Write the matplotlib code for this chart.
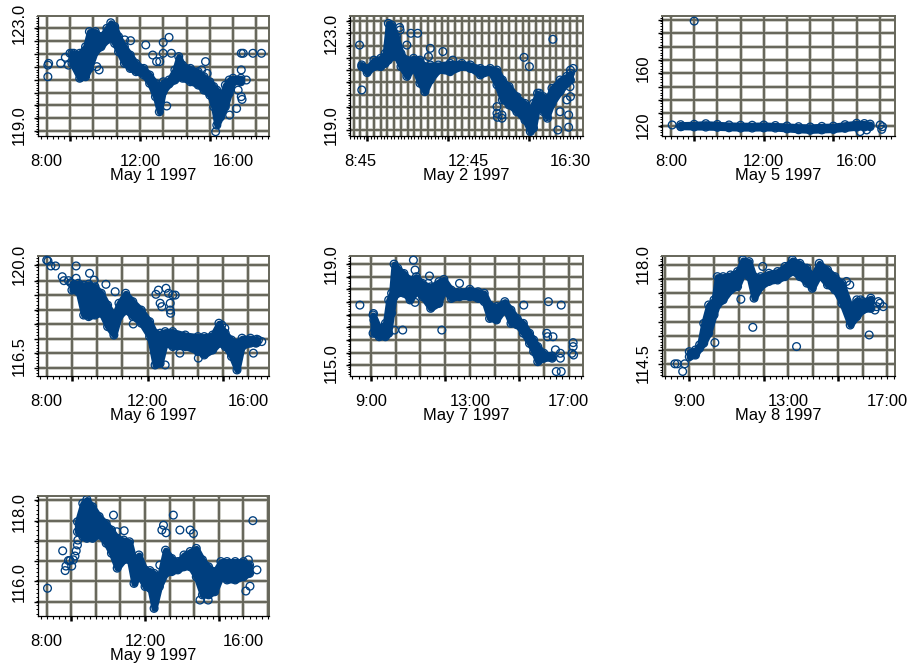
import numpy as np
import matplotlib
matplotlib.use("Agg")
import matplotlib.pyplot as plt
from matplotlib.ticker import MultipleLocator, NullLocator
from matplotlib.transforms import blended_transform_factory

# ---------------------------------------------------------------------------
# Intraday prices, one panel per trading day of early May 1997.
# The dense trading band is kept as (time, low, high); isolated trades that
# sit away from the band are kept as (time, price).
# ---------------------------------------------------------------------------

may1_band_time = ["09:05", "09:25", "09:40", "09:50", "10:05", "10:20", "10:35", "10:45",
                  "10:55", "11:05", "11:20", "11:35", "11:50", "12:10", "12:25", "12:40",
                  "12:50", "13:00", "13:15", "13:30", "13:40", "13:50", "14:10", "14:30",
                  "14:45", "15:00", "15:10", "15:18", "15:28", "15:40", "15:50", "16:00", "16:20"]
may1_band_high = [121.83, 121.83, 122.09, 122.69, 122.69, 122.49, 122.82, 123.04,
                  122.89, 122.49, 122.09, 121.76, 121.43, 121.23, 120.97, 120.64,
                  120.51, 120.70, 120.77, 121.17, 121.70, 121.36, 121.23, 121.10,
                  120.90, 120.70, 120.51, 120.37, 120.04, 120.57, 120.77, 120.84, 120.84]
may1_band_low = [121.43, 120.84, 120.90, 121.23, 121.89, 122.09, 122.36, 122.49,
                 122.22, 121.89, 121.43, 121.23, 121.10, 120.97, 120.64, 120.11,
                 119.51, 120.31, 120.61, 120.77, 120.90, 120.84, 120.70, 120.57,
                 120.37, 120.17, 119.71, 118.98, 119.31, 119.71, 120.24, 120.70, 120.70]
may1_tick_time = ["08:03", "08:03", "08:05", "08:36", "08:48", "08:56", "09:00", "09:10",
                  "10:09", "10:15", "11:21", "11:36", "12:15", "12:33", "12:43", "12:51",
                  "13:00", "13:15", "13:00", "13:21", "13:09", "14:39", "14:49", "14:53",
                  "15:15", "15:51", "16:09", "16:13", "16:21", "16:26", "16:21", "16:34",
                  "16:21", "16:23", "16:51", "17:13"]
may1_tick_price = [120.90, 121.36, 121.43, 121.43, 121.67, 121.36, 121.83, 121.83,
                   121.30, 121.17, 122.36, 122.33, 122.16, 121.76, 121.50, 121.50,
                   122.26, 122.46, 121.83, 121.83, 119.74, 121.17, 121.50, 121.03,
                   118.72, 119.38, 119.64, 120.37, 121.83, 121.83, 121.17, 120.77,
                   120.11, 120.00, 121.83, 121.83]

may2_band_time = ["08:48", "09:00", "09:15", "09:30", "09:40", "09:47", "09:55", "10:05",
                  "10:15", "10:28", "10:43", "10:57", "11:08", "11:20", "11:38", "12:04",
                  "12:30", "12:49", "13:11", "13:33", "13:48", "14:00", "14:15", "14:32",
                  "14:50", "15:02", "15:09", "15:18", "15:31", "15:39", "15:50", "16:08",
                  "16:23", "16:31"]
may2_band_high = [121.62, 121.47, 121.83, 121.91, 122.12, 123.42, 123.34, 122.84,
                  122.12, 121.83, 121.91, 121.83, 121.55, 121.62, 121.62, 121.69,
                  121.69, 121.62, 121.47, 121.47, 121.40, 120.97, 120.68, 120.25,
                  119.96, 119.68, 119.96, 120.40, 120.25, 120.11, 120.61, 120.97,
                  121.13, 121.26]
may2_band_low = [121.55, 121.29, 121.55, 121.55, 121.69, 121.83, 121.98, 121.98,
                 121.55, 121.13, 121.55, 120.83, 120.47, 120.97, 121.40, 121.33,
                 121.55, 121.47, 121.19, 121.33, 120.76, 120.11, 119.89, 119.60,
                 119.24, 118.74, 118.89, 119.82, 119.60, 119.39, 119.96, 120.47,
                 120.83, 120.97]
may2_tick_time = ["08:43", "08:48", "10:12", "10:13", "10:28", "10:37", "10:52", "11:16",
                  "11:20", "11:48", "12:10", "13:48", "13:48", "13:49", "13:59", "13:59",
                  "14:19", "14:48", "15:00", "15:09", "15:22", "15:40", "15:52", "16:03",
                  "16:08", "16:23", "16:27", "16:27", "16:31", "16:31", "16:37", "16:30"]
may2_tick_price = [122.48, 120.54, 123.24, 123.13, 122.48, 122.99, 122.99, 121.98,
                   122.34, 122.20, 121.83, 119.82, 119.53, 119.36, 119.46, 119.32,
                   120.40, 121.95, 121.55, 119.17, 120.40, 119.32, 122.73, 118.81,
                   119.60, 120.11, 119.46, 118.93, 120.25, 121.40, 121.47, 120.68]

may5_band_time = ["08:25", "09:00", "09:30", "10:00", "10:30", "11:00", "11:30", "12:00",
                  "12:30", "13:00", "13:30", "14:00", "14:30", "15:00", "15:30", "16:00",
                  "16:20", "16:35"]
may5_band_high = [120.2, 120.5, 120.9, 120.4, 120.0, 119.8, 119.8, 120.0,
                  119.6, 119.3, 118.8, 118.6, 119.0, 119.2, 120.2, 121.2, 121.0, 120.6]
may5_band_low = [118.8, 118.6, 118.5, 118.3, 118.0, 117.8, 117.8, 117.9,
                 117.8, 117.2, 116.6, 116.2, 116.5, 116.8, 117.6, 118.4, 118.6, 118.8]
may5_tick_time = ["08:03", "08:26", "09:00", "16:09", "16:26", "17:01", "17:07", "17:05"]
may5_tick_price = [120.0, 118.8, 193.4, 115.3, 116.5, 120.0, 118.8, 116.9]

may6_band_time = ["09:00", "09:15", "09:28", "09:40", "09:55", "10:10", "10:25", "10:40",
                  "10:52", "11:08", "11:25", "11:45", "12:05", "12:18", "12:30", "12:42",
                  "13:00", "13:30", "14:00", "14:15", "14:35", "14:50", "15:05", "15:20",
                  "15:33", "15:45", "16:05", "16:20"]
may6_band_high = [119.28, 119.28, 119.21, 119.25, 119.15, 118.90, 118.45, 118.01,
                  118.52, 118.90, 118.58, 118.26, 117.82, 117.38, 117.38, 117.44,
                  117.44, 117.31, 117.25, 117.25, 117.31, 117.76, 117.38, 117.12,
                  117.00, 117.19, 117.19, 117.15]
may6_band_low = [119.02, 118.96, 118.07, 118.01, 118.07, 118.14, 117.63, 117.31,
                 118.01, 118.26, 118.01, 117.76, 117.25, 116.17, 116.23, 117.00,
                 116.87, 116.87, 116.68, 116.55, 116.74, 117.00, 116.87, 116.49,
                 115.98, 116.87, 117.00, 117.02]
may6_tick_time = ["08:00", "08:03", "08:10", "08:21", "08:37", "08:41", "08:52", "08:57",
                  "09:10", "09:10", "09:42", "09:53", "10:21", "10:43", "10:23", "11:26",
                  "12:20", "12:26", "12:30", "12:34", "12:44", "12:50", "13:00", "13:06",
                  "12:54", "12:54", "12:55", "12:42", "13:17", "14:01", "14:57", "15:04",
                  "16:12", "16:18", "16:24", "16:32"]
may6_tick_price = [120.16, 120.13, 119.94, 119.94, 119.53, 119.38, 119.38, 119.30,
                   119.94, 119.47, 119.66, 119.40, 119.24, 118.96, 118.01, 117.73,
                   118.86, 119.02, 118.52, 118.39, 119.09, 118.90, 118.83, 118.83,
                   118.52, 118.26, 118.14, 116.17, 116.62, 116.43, 117.69, 117.57,
                   116.62, 117.00, 117.12, 117.06]

may7_band_time = ["09:05", "09:20", "09:35", "09:43", "09:50", "09:56", "10:05", "10:20",
                  "10:35", "10:50", "11:05", "11:25", "11:45", "11:57", "12:15", "12:35",
                  "13:00", "13:20", "13:35", "13:48", "14:05", "14:25", "14:40", "14:55",
                  "15:10", "15:25", "15:35", "15:45", "16:00", "16:20"]
may7_band_high = [116.94, 116.40, 116.60, 117.55, 117.82, 119.00, 118.83, 118.62,
                  118.35, 118.49, 118.22, 118.08, 118.29, 118.38, 117.95, 117.88,
                  117.98, 117.88, 117.82, 117.34, 117.28, 117.48, 117.14, 116.80,
                  116.60, 116.20, 115.93, 115.66, 115.39, 115.28]
may7_band_low = [116.20, 116.06, 116.06, 116.20, 117.01, 117.68, 117.82, 117.82,
                 117.55, 117.88, 117.68, 117.21, 117.41, 117.95, 117.61, 117.68,
                 117.68, 117.61, 117.48, 116.80, 116.74, 117.21, 116.60, 116.54,
                 116.20, 115.79, 115.46, 115.05, 115.19, 115.19]
may7_tick_time = ["08:33", "09:06", "09:07", "09:12", "09:57", "10:17", "10:43", "10:47",
                  "11:22", "11:19", "10:47", "11:52", "12:35", "15:11", "16:11", "16:42",
                  "16:07", "16:09", "16:22", "16:28", "16:40", "16:40", "16:30", "16:42",
                  "17:11", "17:11", "17:12", "17:08"]
may7_tick_price = [117.34, 117.00, 116.74, 116.33, 116.33, 116.33, 119.16, 118.76,
                   118.52, 118.22, 117.45, 116.33, 118.22, 117.34, 117.48, 117.34,
                   116.20, 116.06, 116.06, 115.53, 115.39, 115.19, 114.65, 114.65,
                   115.82, 115.66, 115.32, 115.39]

may8_band_time = ["09:00", "09:15", "09:25", "09:35", "09:47", "10:00", "10:08", "10:22",
                  "10:40", "10:57", "11:10", "11:25", "11:37", "11:53", "12:13", "12:34",
                  "12:52", "13:10", "13:28", "13:45", "13:58", "14:15", "14:35", "14:53",
                  "15:10", "15:30", "15:46", "16:00", "16:20"]
may8_band_high = [114.90, 114.96, 115.14, 115.90, 116.55, 116.73, 117.55, 117.55,
                  117.61, 117.73, 118.14, 118.08, 117.55, 117.55, 117.67, 117.73,
                  117.91, 118.14, 118.02, 117.85, 117.55, 118.02, 117.79, 117.55,
                  117.32, 116.49, 116.73, 116.67, 116.79]
may8_band_low = [114.72, 114.78, 115.02, 115.20, 115.55, 116.20, 116.55, 116.73,
                 117.08, 117.20, 117.67, 117.55, 116.79, 117.20, 117.38, 117.43,
                 117.55, 117.73, 117.55, 117.32, 117.14, 117.61, 117.26, 117.08,
                 116.61, 115.84, 116.14, 116.37, 116.43]
may8_tick_time = ["08:25", "08:31", "08:44", "08:49", "10:02", "11:05", "11:34", "11:58",
                  "13:20", "15:21", "15:29", "15:55", "16:16", "16:30", "16:34", "16:38",
                  "16:42", "16:50"]
may8_tick_price = [114.47, 114.47, 114.20, 114.47, 115.22, 116.75, 115.76, 117.91,
                   115.08, 117.38, 117.26, 116.73, 115.49, 116.37, 116.49, 116.67,
                   116.61, 116.49]

may9_band_time = ["09:15", "09:28", "09:38", "09:52", "10:08", "10:25", "10:38", "10:52",
                  "11:08", "11:22", "11:33", "11:45", "12:00", "12:12", "12:22", "12:35",
                  "12:50", "13:05", "13:20", "13:35", "13:50", "14:05", "14:20", "14:35",
                  "14:50", "15:05", "15:20", "15:40", "16:00", "16:15"]
may9_band_high = [117.73, 118.26, 118.37, 118.16, 117.88, 117.68, 117.49, 117.25,
                  117.20, 117.15, 116.63, 116.77, 116.34, 116.32, 116.24, 116.14,
                  116.91, 116.67, 116.58, 116.77, 116.87, 116.96, 116.63, 116.43,
                  116.29, 116.58, 116.58, 116.58, 116.58, 116.48]
may9_band_low = [117.44, 117.30, 117.25, 117.25, 117.35, 117.11, 116.82, 116.39,
                 116.63, 116.63, 115.95, 116.19, 115.86, 115.81, 115.23, 115.86,
                 116.24, 116.29, 116.34, 116.43, 116.43, 116.14, 115.62, 115.62,
                 115.71, 116.14, 116.05, 116.05, 116.14, 116.24]
may9_tick_time = ["08:02", "08:39", "08:45", "08:47", "08:53", "08:57", "09:01", "09:05",
                  "09:09", "09:12", "09:15", "09:16", "10:43", "10:51", "11:09", "12:36",
                  "12:41", "12:45", "12:51", "13:09", "13:25", "13:50", "13:58", "14:14",
                  "14:34", "16:06", "16:12", "16:16", "16:23", "16:33"]
may9_tick_price = [115.81, 116.89, 116.32, 116.45, 116.61, 116.61, 116.45, 116.63,
                   116.74, 116.89, 117.06, 117.20, 117.92, 117.44, 117.47, 116.48,
                   117.49, 117.63, 117.41, 117.92, 117.49, 117.49, 117.39, 115.47,
                   115.47, 115.73, 116.63, 115.87, 117.76, 116.34]

# axis text
day_titles = ["May 1 1997", "May 2 1997", "May 5 1997", "May 6 1997",
              "May 7 1997", "May 8 1997", "May 9 1997"]
x_tick_text = [["8:00", "12:00", "16:00"], ["8:45", "12:45", "16:30"],
               ["8:00", "12:00", "16:00"], ["8:00", "12:00", "16:00"],
               ["9:00", "13:00", "17:00"], ["9:00", "13:00", "17:00"],
               ["8:00", "12:00", "16:00"]]
x_tick_times = [["08:00", "12:00", "16:00"], ["08:45", "12:45", "16:30"],
                ["08:00", "12:00", "16:00"], ["08:00", "12:00", "16:00"],
                ["09:00", "13:00", "17:00"], ["09:00", "13:00", "17:00"],
                ["08:00", "12:00", "16:00"]]
y_tick_values = [[119.0, 123.0], [119.0, 123.0], [120, 160], [116.5, 120.0],
                 [115.0, 119.0], [114.5, 118.0], [116.0, 118.0]]
y_tick_text = [["119.0", "123.0"], ["119.0", "123.0"], ["120", "160"], ["116.5", "120.0"],
               ["115.0", "119.0"], ["114.5", "118.0"], ["116.0", "118.0"]]

# ---------------------------------------------------------------------------
# layout / styling
# ---------------------------------------------------------------------------
W, H = 911, 668
BLUE = "#003f7f"
GRID_DARK = "#66665a"
GRID_LIGHT = "#c2c2ba"
FONT = ["Liberation Sans", "DejaVu Sans"]
FONT_NARROW = ["Liberation Sans Narrow", "Liberation Sans", "DejaVu Sans"]
FS = 11.9
MARK_S = 31
MARK_LW = 0.95

plt.rcParams["font.family"] = FONT

col_left = [37.7, 350.0, 662.3]
col_width = [231.3, 232.7, 232.7]
row_top = [15.7, 255.7, 495.7]
panel_h = 120.3

# (row, col), x-limits (hours), y-limits, horizontal grid values,
# vertical grid step (hours), minor x tick step (hours)
panel_spec = [
    ((0, 0), (7.614, 17.54), (118.55, 123.32),
     [122.82, 122.31, 121.80, 121.29, 120.78, 120.27, 119.76, 119.25, 118.74], 1.0, 0.25),
    ((0, 1), (8.365, 16.97), (118.55, 123.75),
     [123.53, 122.99, 122.45, 121.93, 121.40, 120.87, 120.34, 119.82, 119.32, 118.81], 0.25, 0.125),
    ((0, 2), (7.625, 17.655), (112.2, 197.2),
     [194.1, 184.7, 175.3, 165.9, 156.5, 147.1, 137.6, 128.2, 119.3], 1.0, 0.25),
    ((1, 0), (7.643, 16.82), (115.75, 120.33),
     [119.97, 119.38, 118.83, 118.26, 117.72, 117.16, 116.62, 116.05], 1.0, 0.25),
    ((1, 1), (8.15, 17.57), (114.47, 119.34),
     [119.00, 118.49, 117.98, 117.45, 116.94, 116.44, 115.93, 115.42, 114.92], 1.0, 0.25),
    ((1, 2), (7.91, 17.31), (114.04, 118.29),
     [117.96, 117.47, 116.96, 116.47, 115.96, 115.46, 114.96, 114.47], 1.0, 0.25),
    ((2, 0), (7.634, 17.04), (115.01, 118.48),
     [118.36, 117.76, 117.17, 116.60, 116.02, 115.42], 1.0, 0.25),
]

series = [
    (may1_band_time, may1_band_low, may1_band_high, may1_tick_time, may1_tick_price),
    (may2_band_time, may2_band_low, may2_band_high, may2_tick_time, may2_tick_price),
    (may5_band_time, may5_band_low, may5_band_high, may5_tick_time, may5_tick_price),
    (may6_band_time, may6_band_low, may6_band_high, may6_tick_time, may6_tick_price),
    (may7_band_time, may7_band_low, may7_band_high, may7_tick_time, may7_tick_price),
    (may8_band_time, may8_band_low, may8_band_high, may8_tick_time, may8_tick_price),
    (may9_band_time, may9_band_low, may9_band_high, may9_tick_time, may9_tick_price),
]


def to_hours(stamps):
    out = []
    for s in stamps:
        h, m = s.split(":")
        out.append(int(h) + int(m) / 60.0)
    return np.array(out)


def circles(ax, x, y, clip=True):
    ax.scatter(x, y, s=MARK_S, facecolors="none", edgecolors=BLUE,
               linewidths=MARK_LW, zorder=3, clip_on=clip)


fig = plt.figure(figsize=(W / 100, H / 100), dpi=100)
fig.patch.set_facecolor("white")

for i, spec in enumerate(panel_spec):
    (r, c), xlim, ylim, ygrid, xstep, xminor = spec
    band_t, band_lo, band_hi, tick_t, tick_p = series[i]

    rect = [col_left[c] / W, 1 - (row_top[r] + panel_h) / H, col_width[c] / W, panel_h / H]
    ax = fig.add_axes(rect)
    ax.set_xlim(*xlim)
    ax.set_ylim(*ylim)

    # grid: dark line with a pale halo
    xgrid = np.arange(np.ceil(xlim[0] / xstep) * xstep, xlim[1], xstep)
    for g in xgrid:
        ax.axvline(g, color=GRID_LIGHT, lw=2.6, zorder=0.5)
        ax.axvline(g, color=GRID_DARK, lw=1.4, zorder=0.6)
    for g in ygrid:
        ax.axhline(g, color=GRID_LIGHT, lw=2.6, zorder=0.5)
        ax.axhline(g, color=GRID_DARK, lw=1.4, zorder=0.6)

    # dense trading band
    bt = to_hours(band_t)
    ax.fill_between(bt, band_lo, band_hi, facecolor=BLUE, edgecolor=BLUE,
                    linewidth=4.4, joinstyle="round", capstyle="round", zorder=2)
    circles(ax, bt, band_lo)
    circles(ax, bt, band_hi)
    # isolated trades
    circles(ax, to_hours(tick_t), tick_p, clip=False)

    # frame: black axes on left/bottom, grey edges on top/right
    for side in ("top", "right"):
        ax.spines[side].set_color(GRID_DARK)
        ax.spines[side].set_linewidth(1.4)
    for side in ("left", "bottom"):
        ax.spines[side].set_color("black")
        ax.spines[side].set_linewidth(0.9)

    # x axis: labels, fine ticks and heavier 3-hourly ticks
    ax.xaxis.remove_overlapping_locs = False
    ax.set_xticks(to_hours(x_tick_times[i]), x_tick_text[i])
    ax.xaxis.set_minor_locator(MultipleLocator(xminor))
    ax.tick_params(axis="x", which="major", length=0, pad=12.6, labelsize=FS)
    ax.tick_params(axis="x", which="minor", length=2.4, width=0.8, direction="out")
    sx = ax.secondary_xaxis("bottom")
    sx.set_xticks([9, 12, 15])
    sx.tick_params(length=3.6, width=1.8, labelbottom=False)
    sx.spines["bottom"].set_visible(False)

    # y axis: fine ticks, ticks at the grid lines and rotated value labels
    ax.yaxis.set_major_locator(NullLocator())
    ystep = abs(ygrid[0] - ygrid[1])
    ax.yaxis.set_minor_locator(MultipleLocator(ystep / 5))
    ax.tick_params(axis="y", which="minor", length=1.8, width=0.7, direction="out")
    sy = ax.secondary_yaxis("left")
    sy.set_yticks(ygrid)
    sy.tick_params(length=3.0, width=1.0, labelleft=False)
    sy.spines["left"].set_visible(False)

    ytrans = blended_transform_factory(ax.transAxes, ax.transData)
    for val, txt in zip(y_tick_values[i], y_tick_text[i]):
        ax.annotate(txt, xy=(0, val), xycoords=ytrans, xytext=(-13.5, 0),
                    textcoords="offset points", rotation=90, ha="center", va="center",
                    fontsize=FS, fontfamily=FONT_NARROW, annotation_clip=False)

    ax.annotate(day_titles[i], xy=(0.5, 0), xycoords="axes fraction",
                xytext=(0, -28.3), textcoords="offset points",
                ha="center", va="center", fontsize=FS)

fig.savefig("out.png", dpi=100)
